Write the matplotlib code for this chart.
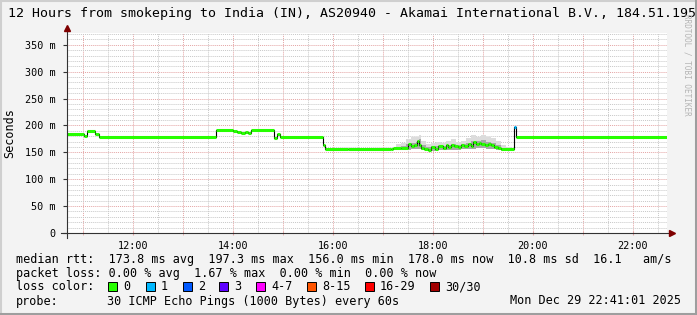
import matplotlib
matplotlib.use("Agg")
import matplotlib.pyplot as plt
from matplotlib.patches import Rectangle
from matplotlib.lines import Line2D

W, H = 697, 315
MONO = "DejaVu Sans Mono"

# median rtt (ms), step values starting at each time (hours of day)
t_hours = [10.683, 11.02, 11.08, 11.24, 11.32, 13.66, 14.00, 14.08, 14.16, 14.24,
           14.30, 14.36, 14.82, 14.88, 14.94, 15.80, 15.84, 16.30, 17.16, 17.20,
           17.36, 17.50, 17.56, 17.62, 17.68, 17.72, 17.76, 17.82, 17.90, 17.96,
           18.04, 18.10, 18.20, 18.26, 18.30, 18.36, 18.42, 18.50, 18.56, 18.62,
           18.70, 18.76, 18.80, 18.86, 18.92, 18.96, 19.04, 19.10, 19.16, 19.22,
           19.30, 19.36, 19.62, 19.66]
median_ms = [185, 180, 189, 184, 178, 192, 190, 187, 186, 188,
             186, 191, 176, 184, 178, 164, 156, 157, 156, 158,
             159, 166, 162, 164, 172, 163, 158, 156, 155, 160,
             157, 161, 159, 163, 160, 163, 161, 160, 163, 162,
             165, 162, 170, 166, 168, 165, 163, 165, 164, 160,
             158, 156, 198, 178]
loss_count = [0] * 52 + [1, 0]
t_end = 22.683

# smoke (spread of the 30 pings) in the noisy evening period
smoke_hours = [17.16, 17.26, 17.36, 17.46, 17.56, 17.66, 17.72, 17.76, 17.86, 17.96,
               18.06, 18.16, 18.26, 18.36, 18.46, 18.56, 18.66, 18.76, 18.86, 18.96,
               19.06, 19.16, 19.26, 19.36, 19.46, 19.56, 19.62]
smoke_lo_ms = [154, 154, 155, 155, 156, 156, 157, 154, 153, 153,
               154, 154, 155, 155, 155, 156, 156, 157, 158, 158,
               157, 156, 154, 153, 153, 153, 153]
smoke_mid_ms = [157, 160, 162, 166, 168, 170, 174, 163, 160, 161,
                162, 162, 164, 166, 163, 165, 167, 172, 172, 173,
                170, 168, 163, 158, 157, 156, 155]
smoke_hi_ms = [158, 165, 168, 175, 178, 179, 182, 171, 166, 168,
               170, 168, 172, 175, 170, 172, 176, 182, 179, 183,
               178, 176, 172, 163, 160, 159, 158]

x_ticks = [12, 14, 16, 18, 20, 22]
x_tick_labels = ["12:00", "14:00", "16:00", "18:00", "20:00", "22:00"]
y_ticks = [0, 50, 100, 150, 200, 250, 300, 350]
y_tick_labels = ["0", "50 m", "100 m", "150 m", "200 m", "250 m", "300 m", "350 m"]

loss_labels = ["0", "1", "2", "3", "4-7", "8-15", "16-29", "30/30"]
loss_colors = ["#26ff00", "#00b8ff", "#0059ff", "#5e00ff", "#ff00ff",
               "#ff5500", "#ff0000", "#a10000"]
loss_bins = [0, 1, 2, 3, 4, 8, 16, 30]

title = "12 Hours from smokeping to India (IN), AS20940 - Akamai International B.V., 184.51.195"
rtt_line = "median rtt:  173.8 ms avg  197.3 ms max  156.0 ms min  178.0 ms now  10.8 ms sd  16.1   am/s"
loss_line = "packet loss: 0.00 % avg  1.67 % max  0.00 % min  0.00 % now"
probe_text = "30 ICMP Echo Pings (1000 Bytes) every 60s"
stamp = "Mon Dec 29 22:41:01 2025"


def fx(px):
    return px / W


def fy(py):
    return 1 - py / H


def loss_color(n):
    idx = 0
    for i, b in enumerate(loss_bins):
        if n >= b:
            idx = i
    return loss_colors[idx]


fig = plt.figure(figsize=(W / 100, H / 100), dpi=100, facecolor="#f3f3f3")
ax = fig.add_axes([fx(67), fy(233), fx(600), 200 / H])
ax.set_facecolor("white")
ax.set_xlim(10.683, t_end)
ax.set_ylim(0, 372)
for s in ax.spines.values():
    s.set_visible(False)

# grid
minor_x = [h + 0.5 for h in range(10, 23)]
major_x = list(range(11, 23))
for h in minor_x:
    ax.axvline(h, color="#c8c8c8", lw=0.7, ls=(0, (1, 1)), zorder=0)
for h in major_x:
    ax.axvline(h, color="#e4a4a4", lw=0.7, ls=(0, (1, 1)), zorder=0)
for v in range(10, 372, 10):
    if v % 50:
        ax.axhline(v, color="#c8c8c8", lw=0.7, ls=(0, (1, 1)), zorder=0)
for v in y_ticks[1:]:
    ax.axhline(v, color="#e4a4a4", lw=0.7, ls=(0, (1, 1)), zorder=0)

# smoke, light outer band and darker core
ax.fill_between(smoke_hours, smoke_lo_ms, smoke_hi_ms, step="post",
                color="#dcdcdc", lw=0, zorder=1)
ax.fill_between(smoke_hours, smoke_lo_ms, smoke_mid_ms, step="post",
                color="#a8a8a8", lw=0, zorder=1)

# median line: black steps, coloured flats
t_all = t_hours + [t_end]
ax.step(t_all, median_ms + [median_ms[-1]], where="post", color="black",
        lw=0.8, zorder=2)
ax.hlines(median_ms, t_all[:-1], t_all[1:],
          colors=[loss_color(n) for n in loss_count], lw=2.2, zorder=3)

# axes with arrows
ax.plot([-0.01, 1.006], [0, 0], transform=ax.transAxes, color="#333333",
        lw=0.8, clip_on=False, zorder=4)
ax.plot([0, 0], [-0.025, 1.015], transform=ax.transAxes, color="#333333",
        lw=0.8, clip_on=False, zorder=4)
ax.plot([1.008], [0], marker=">", ms=4, color="#7f0000", transform=ax.transAxes,
        clip_on=False, zorder=5)
ax.plot([0], [1.025], marker="^", ms=4, color="#7f0000", transform=ax.transAxes,
        clip_on=False, zorder=5)

ax.set_xticks(x_ticks)
ax.set_xticklabels(x_tick_labels, fontfamily=MONO, fontsize=7.3)
ax.set_xticks(major_x, minor=True)
ax.tick_params(axis="x", which="both", length=3, color="#e4a4a4",
               direction="inout", pad=4)
ax.set_yticks(y_ticks)
ax.set_yticklabels(y_tick_labels, fontfamily=MONO, fontsize=7.3)
ax.tick_params(axis="y", length=3, color="#333333", pad=5)

# texts
fig.text(fx(8), fy(14), title, fontfamily=MONO, fontsize=9.5, va="center", ha="left")
fig.text(fx(10), fy(133), "Seconds", fontfamily=MONO, fontsize=8.5, rotation=90,
         va="center", ha="center")
fig.text(fx(687), fy(65), "RRDTOOL / TOBI OETIKER", fontfamily=MONO, fontsize=5.5,
         rotation=270, color="#b4b4b4", va="center", ha="center")

fig.text(fx(16), fy(259), rtt_line, fontfamily=MONO, fontsize=8.5, va="center")
fig.text(fx(16), fy(273), loss_line, fontfamily=MONO, fontsize=8.5, va="center")
fig.text(fx(16), fy(287), "loss color:", fontfamily=MONO, fontsize=8.5, va="center")
fig.text(fx(16), fy(301), "probe:", fontfamily=MONO, fontsize=8.5, va="center")
fig.text(fx(107), fy(301), probe_text, fontfamily=MONO, fontsize=8.5, va="center")
fig.text(fx(681), fy(301), stamp, fontfamily=MONO, fontsize=8.5, va="center", ha="right")

square_x = [108, 146, 183, 219, 256, 307, 365, 430]
for sx, lab, col in zip(square_x, loss_labels, loss_colors):
    fig.add_artist(Rectangle((fx(sx), fy(291)), fx(9), 9 / H, transform=fig.transFigure,
                             facecolor=col, edgecolor="black", lw=0.7))
    fig.text(fx(sx + 15), fy(287), lab, fontfamily=MONO, fontsize=8.5, va="center")

# 3d frame
fig.add_artist(Line2D([0, 1], [fy(1), fy(1)], transform=fig.transFigure, color="#cfcfcf", lw=1.5))
fig.add_artist(Line2D([fx(1), fx(1)], [0, 1], transform=fig.transFigure, color="#cfcfcf", lw=1.5))
fig.add_artist(Line2D([0, 1], [fy(313.5), fy(313.5)], transform=fig.transFigure, color="#9e9e9e", lw=2.2))
fig.add_artist(Line2D([fx(695.5), fx(695.5)], [0, 1], transform=fig.transFigure, color="#9e9e9e", lw=2.2))

fig.savefig("out.png", dpi=100, facecolor=fig.get_facecolor())
